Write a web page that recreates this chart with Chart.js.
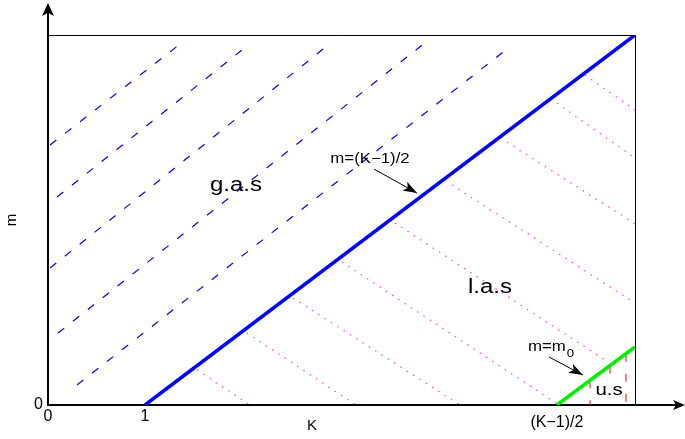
<!DOCTYPE html>
<html>
<head>
<meta charset="utf-8">
<script src="https://cdn.jsdelivr.net/npm/chart.js@4.4.1/dist/chart.umd.min.js"></script>
<style>
  body { margin: 0; background: #fff; }
  #wrap { width: 685px; height: 439px; }
</style>
</head>
<body>
<div id="wrap"><canvas id="stabChart"></canvas></div>
<script>
// axis ranges and ticks
var kMax = 6.052, mMax = 2.526;
var kTicks = [0, 1, 5.247];
var kTickLabels = ['0', '1', '(K\u22121)/2'];
var mTicks = [0];
var mTickLabels = ['0'];

// m = (K-1)/2 boundary
var boundaryK = [1, 6.052];
var boundaryM = [0, 2.526];

// m = m0 line
var m0K = [5.247, 6.052];
var m0M = [0, 0.396];

// g.a.s hatching (blue dashed)
var gasFromK = [0.021, 0.093, 0.021, 0.103, 0.299];
var gasFromM = [1.775, 1.420, 0.935, 0.491, 0.137];
var gasToK = [1.361, 2.052, 2.887, 3.856, 4.732];
var gasToM = [2.464, 2.451, 2.457, 2.457, 2.430];

// l.a.s hatching (magenta dotted)
var lasFromK = [1.536, 2.052, 2.526, 3.031, 3.577, 4.165, 4.732, 5.247, 5.536];
var lasFromM = [0.239, 0.491, 0.730, 0.976, 1.242, 1.502, 1.795, 2.061, 2.253];
var lasToK = [2.082, 3.175, 4.247, 5.268, 5.773, 6.052, 6.052, 6.052, 6.052];
var lasToM = [0, 0, 0, 0, 0.294, 0.696, 1.236, 1.686, 2.014];

// u.s hatching (red dashed, vertical)
var usK = [5.588, 5.794, 5.959];
var usTopM = [0.168, 0.269, 0.350];

var FONT = '"Liberation Sans", Arial, Helvetica, sans-serif';

// where the labels sit (in K, m units)
var notes = [
  { text: 'g.a.s', k: 1.938, m: 1.502, size: 20 },
  { text: 'l.a.s', k: 4.557, m: 0.799, size: 20 },
  { text: 'u.s', k: 5.784, m: 0.102, size: 17, box: true },
  { text: 'm=(K\u22121)/2', k: 3.320, m: 1.679, size: 14 }
];
var pointers = [
  { k0: 3.361, m0: 1.611, k1: 3.804, m1: 1.447 },
  { k0: 5.165, m0: 0.328, k1: 5.515, m1: 0.205 }
];

function line(xs, ys) {
  return xs.map(function(x, i) { return { x: x, y: ys[i] }; });
}

var datasets = [];
datasets.push({ data: line(boundaryK, boundaryM), borderColor: '#0000ff', borderWidth: 3.5 });
datasets.push({ data: line(m0K, m0M), borderColor: '#00ee00', borderWidth: 3.5 });
gasFromK.forEach(function(k, i) {
  datasets.push({
    data: [{ x: k, y: gasFromM[i] }, { x: gasToK[i], y: gasToM[i] }],
    borderColor: '#0000ff', borderWidth: 1.2, borderDash: [8, 11]
  });
});
lasFromK.forEach(function(k, i) {
  datasets.push({
    data: [{ x: k, y: lasFromM[i] }, { x: lasToK[i], y: lasToM[i] }],
    borderColor: 'rgba(255,0,255,0.75)', borderWidth: 1.2, borderDash: [1.5, 6]
  });
});
usK.forEach(function(k, i) {
  datasets.push({
    data: [{ x: k, y: usTopM[i] }, { x: k, y: 0 }],
    borderColor: '#ff0000', borderWidth: 1, borderDash: [8, 12]
  });
});
datasets.forEach(function(d) {
  d.showLine = true;
  d.pointRadius = 0;
  d.fill = false;
});

function arrowHead(ctx, x0, y0, x1, y1, len, half) {
  var a = Math.atan2(y1 - y0, x1 - x0);
  var c = Math.cos(a), s = Math.sin(a);
  ctx.beginPath();
  ctx.moveTo(x1, y1);
  ctx.lineTo(x1 - len * c + half * s, y1 - len * s - half * c);
  ctx.lineTo(x1 - len * 0.75 * c, y1 - len * 0.75 * s);
  ctx.lineTo(x1 - len * c - half * s, y1 - len * s + half * c);
  ctx.closePath();
  ctx.fill();
}

function wideText(ctx, txt, x, y, size, align) {
  ctx.save();
  ctx.font = size + 'px ' + FONT;
  ctx.translate(x, y);
  ctx.scale(1.2, 1);
  ctx.textAlign = align || 'center';
  ctx.textBaseline = 'middle';
  ctx.fillText(txt, 0, 0);
  ctx.restore();
}

var decor = {
  id: 'decor',
  afterDraw: function(chart) {
    var ctx = chart.ctx, a = chart.chartArea;
    var xs = chart.scales.x, ys = chart.scales.y;
    ctx.save();
    ctx.strokeStyle = '#000';
    ctx.fillStyle = '#000';

    // top and right of the box
    ctx.lineWidth = 1;
    ctx.beginPath();
    ctx.moveTo(a.left, a.top + 0.5);
    ctx.lineTo(a.right + 0.5, a.top + 0.5);
    ctx.lineTo(a.right + 0.5, a.bottom);
    ctx.stroke();

    // axes run on past the box, with arrows
    ctx.lineWidth = 2;
    ctx.beginPath();
    ctx.moveTo(a.left, a.top);
    ctx.lineTo(a.left, 10);
    ctx.moveTo(a.right, a.bottom);
    ctx.lineTo(chart.width - 8, a.bottom);
    ctx.stroke();
    arrowHead(ctx, a.left, a.top, a.left, 3, 13, 6);
    arrowHead(ctx, a.right, a.bottom, chart.width, a.bottom, 12, 5);

    // K axis title
    ctx.font = '15px ' + FONT;
    ctx.textAlign = 'center';
    ctx.textBaseline = 'middle';
    ctx.fillText('K', xs.getPixelForValue(2.722), a.bottom + 21);

    // region labels
    notes.forEach(function(n) {
      var x = xs.getPixelForValue(n.k), y = ys.getPixelForValue(n.m);
      if (n.box) {
        ctx.font = n.size + 'px ' + FONT;
        var w = ctx.measureText(n.text).width * 1.2;
        ctx.fillStyle = '#fff';
        ctx.fillRect(x - w / 2 - 1, y - n.size / 2, w + 2, n.size - 2);
        ctx.fillStyle = '#000';
      }
      wideText(ctx, n.text, x, y, n.size);
    });

    // m=m0 with subscript
    var mx = xs.getPixelForValue(4.948), my = ys.getPixelForValue(0.396);
    wideText(ctx, 'm=m', mx, my, 14, 'left');
    ctx.font = '14px ' + FONT;
    var mw = ctx.measureText('m=m').width * 1.2;
    wideText(ctx, '0', mx + mw + 1, my + 7, 11, 'left');

    // pointer arrows
    ctx.lineWidth = 1;
    pointers.forEach(function(p) {
      var x0 = xs.getPixelForValue(p.k0), y0 = ys.getPixelForValue(p.m0);
      var x1 = xs.getPixelForValue(p.k1), y1 = ys.getPixelForValue(p.m1);
      ctx.beginPath();
      ctx.moveTo(x0, y0);
      ctx.lineTo(x1, y1);
      ctx.stroke();
      arrowHead(ctx, x0, y0, x1, y1, 14, 5);
    });
    ctx.restore();
  }
};

new Chart(document.getElementById('stabChart'), {
  type: 'scatter',
  data: { datasets: datasets },
  options: {
    responsive: true,
    maintainAspectRatio: false,
    animation: false,
    layout: { padding: { top: 35, right: 50, left: 0, bottom: 0 } },
    plugins: { legend: { display: false }, tooltip: { enabled: false } },
    scales: {
      x: {
        type: 'linear', min: 0, max: kMax,
        grid: { display: false, drawTicks: false },
        border: { display: true, color: '#000', width: 2 },
        afterBuildTicks: function(scale) {
          scale.ticks = kTicks.map(function(v) { return { value: v }; });
        },
        afterFit: function(scale) { scale.height = 34; },
        ticks: {
          autoSkip: false, maxRotation: 0, padding: 2, color: '#000',
          font: function(c) {
            return { family: FONT, size: 16, lineHeight: c.index === 2 ? 1.9 : 1.2 };
          },
          callback: function(v, i) { return kTickLabels[i]; }
        }
      },
      y: {
        type: 'linear', min: 0, max: mMax,
        grid: { display: false, drawTicks: false },
        border: { display: true, color: '#000', width: 2 },
        afterBuildTicks: function(scale) {
          scale.ticks = mTicks.map(function(v) { return { value: v }; });
        },
        afterFit: function(scale) { scale.width = 48; },
        ticks: {
          padding: 5, color: '#000',
          font: { family: FONT, size: 16 },
          callback: function(v, i) { return mTickLabels[i]; }
        },
        title: {
          display: true, text: 'm', color: '#000',
          font: { family: FONT, size: 15 },
          padding: { top: 3, bottom: 0 }
        }
      }
    }
  },
  plugins: [decor]
});
</script>
</body>
</html>
